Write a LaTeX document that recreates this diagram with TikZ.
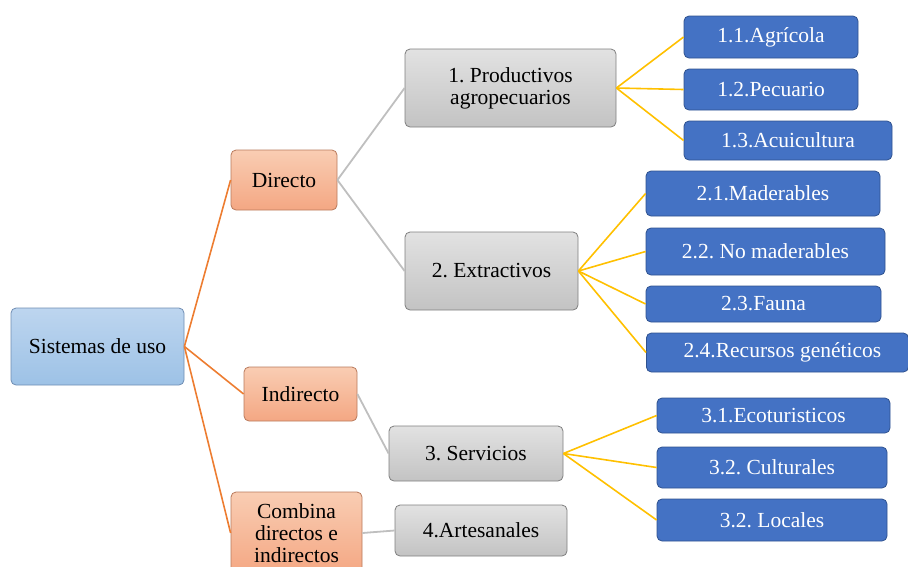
\documentclass[tikz,border=0pt]{standalone}
\usepackage{fontspec}
\setmainfont{Liberation Serif}
\definecolor{sisTop}{HTML}{BDD5EF}
\definecolor{sisBot}{HTML}{9DC2E6}
\definecolor{sisLine}{HTML}{6F8DB3}
\definecolor{salTop}{HTML}{F9CDB3}
\definecolor{salBot}{HTML}{F4A783}
\definecolor{salLine}{HTML}{B97A5C}
\definecolor{grTop}{HTML}{E2E2E2}
\definecolor{grBot}{HTML}{C3C3C3}
\definecolor{grLine}{HTML}{7F7F7F}
\definecolor{bluFill}{HTML}{4472C4}
\definecolor{bluLine}{HTML}{2F528F}
\definecolor{orLine}{HTML}{ED7D31}
\definecolor{gyLine}{HTML}{BFBFBF}
\definecolor{yeLine}{HTML}{FFC000}
\tikzset{
  basebox/.style={rounded corners=5pt, inner sep=0pt, align=center, line width=0.8pt,
    font=\fontsize{21.5}{22}\selectfont\frenchspacing},
  rootbox/.style={basebox, draw=sisLine, top color=sisTop, bottom color=sisBot},
  salbox/.style={basebox, draw=salLine, top color=salTop, bottom color=salBot},
  graybox/.style={basebox, draw=grLine, top color=grTop, bottom color=grBot},
  leafbox/.style={basebox, draw=bluLine, fill=bluFill, text=white},
  orc/.style={draw=orLine, line width=1.6pt},
  gyc/.style={draw=gyLine, line width=1.8pt},
  yec/.style={draw=yeLine, line width=1.6pt}
}
\begin{document}
\begin{tikzpicture}[x=1pt,y=-1pt]
\useasboundingbox (0,0) rectangle (908,566);
\clip (0,0) rectangle (908,566);
% level 0
\node[rootbox, minimum width=173pt, minimum height=77pt] (sis) at (97.5,346.5) {Sistemas de uso};
% level 1
\node[salbox, minimum width=106pt, minimum height=60pt] (dir) at (284,180) {Directo};
\node[salbox, minimum width=113pt, minimum height=54pt] (ind) at (300.5,394) {Indirecto};
\node[salbox, minimum width=131pt, minimum height=82pt] (com) at (296.5,533) {Combina\\directos e\\indirectos};
% level 2
\node[graybox, minimum width=211pt, minimum height=78pt] (pro) at (510.5,88) {1. Productivos\\agropecuarios};
\node[graybox, minimum width=173pt, minimum height=78pt] (ext) at (491.5,271) {2. Extractivos};
\node[graybox, minimum width=174pt, minimum height=55pt] (ser) at (476,453.5) {3. Servicios};
\node[graybox, minimum width=172pt, minimum height=51pt] (art) at (481,530.5) {4.Artesanales};
% level 3
\node[leafbox, minimum width=174pt, minimum height=42pt] (a11) at (771,37) {1.1.Agrícola};
\node[leafbox, minimum width=174pt, minimum height=41pt] (a12) at (771,89.5) {1.2.Pecuario};
\node[leafbox, minimum width=208pt, minimum height=39pt] (a13) at (788,140.5) {1.3.Acuicultura};
\node[leafbox, minimum width=234pt, minimum height=45pt] (a21) at (763,193.5) {2.1.Maderables};
\node[leafbox, minimum width=239pt, minimum height=47pt] (a22) at (765.5,251.5) {2.2. No maderables};
\node[leafbox, minimum width=235pt, minimum height=36pt] (a23) at (763.5,304) {2.3.Fauna};
\node[leafbox, minimum width=262pt, minimum height=39pt, anchor=west] (a24) at (646,352.5) {\hspace*{10pt}2.4.Recursos genéticos};
\node[leafbox, minimum width=233pt, minimum height=35pt] (a31) at (773.5,415.5) {3.1.Ecoturisticos};
\node[leafbox, minimum width=230pt, minimum height=41pt] (a32) at (772,467.5) {3.2. Culturales};
\node[leafbox, minimum width=230pt, minimum height=42pt] (a33) at (772,520) {3.2. Locales};
% connectors
\draw[orc] (sis.east) -- (dir.west);
\draw[orc] (sis.east) -- (ind.west);
\draw[orc] (sis.east) -- (com.west);
\draw[gyc] (dir.east) -- (pro.west);
\draw[gyc] (dir.east) -- (ext.west);
\draw[gyc] (ind.east) -- (ser.west);
\draw[gyc] (com.east) -- (art.west);
\foreach \t in {a11,a12,a13} \draw[yec] (pro.east) -- (\t.west);
\foreach \t in {a21,a22,a23,a24} \draw[yec] (ext.east) -- (\t.west);
\foreach \t in {a31,a32,a33} \draw[yec] (ser.east) -- (\t.west);
\end{tikzpicture}
\end{document}
